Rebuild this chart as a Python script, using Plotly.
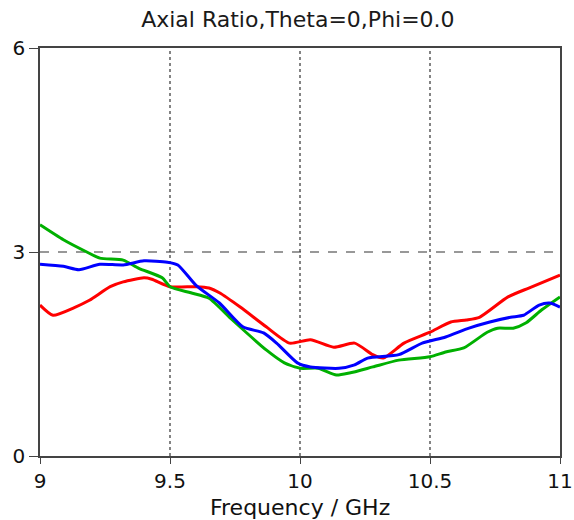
import plotly.graph_objects as go

freq_green = [9.0, 9.09, 9.18, 9.23, 9.32, 9.38, 9.47, 9.5, 9.58, 9.65, 9.74, 9.87, 9.94, 10.0, 10.07, 10.14, 10.19, 10.28, 10.38, 10.5, 10.56, 10.63, 10.72, 10.76, 10.82, 10.87, 10.93, 11.0]
ar_green = [3.40, 3.18, 3.0, 2.91, 2.88, 2.76, 2.62, 2.49, 2.40, 2.32, 2.0, 1.56, 1.37, 1.29, 1.29, 1.19, 1.22, 1.31, 1.41, 1.46, 1.53, 1.59, 1.82, 1.88, 1.88, 1.96, 2.15, 2.34]

freq_red = [9.0, 9.05, 9.13, 9.19, 9.27, 9.32, 9.40, 9.43, 9.5, 9.60, 9.65, 9.69, 9.77, 9.87, 9.96, 10.04, 10.13, 10.21, 10.28, 10.32, 10.40, 10.5, 10.58, 10.64, 10.69, 10.8, 10.88, 11.0]
ar_red = [2.22, 2.07, 2.18, 2.29, 2.49, 2.56, 2.62, 2.60, 2.49, 2.49, 2.47, 2.40, 2.19, 1.90, 1.66, 1.71, 1.60, 1.66, 1.49, 1.44, 1.66, 1.82, 1.97, 2.0, 2.04, 2.34, 2.47, 2.66]

freq_blue = [9.0, 9.09, 9.15, 9.23, 9.32, 9.40, 9.49, 9.53, 9.60, 9.69, 9.78, 9.86, 9.91, 9.99, 10.04, 10.15, 10.21, 10.26, 10.38, 10.47, 10.56, 10.65, 10.73, 10.81, 10.86, 10.92, 10.96, 11.0]
ar_blue = [2.82, 2.79, 2.74, 2.82, 2.81, 2.87, 2.85, 2.81, 2.51, 2.25, 1.90, 1.81, 1.66, 1.37, 1.31, 1.29, 1.34, 1.44, 1.49, 1.66, 1.75, 1.88, 1.97, 2.04, 2.07, 2.22, 2.25, 2.19]

x_ticks = [9, 9.5, 10, 10.5, 11]
x_tick_labels = ["9", "9.5", "10", "10.5", "11"]
y_ticks = [0, 3, 6]

fig = go.Figure()
for xs, ys, col in [(freq_red, ar_red, "#ff0000"), (freq_green, ar_green, "#00b000"), (freq_blue, ar_blue, "#0000ff")]:
    fig.add_trace(go.Scatter(x=xs, y=ys, mode="lines",
                             line=dict(color=col, width=3, shape="spline", smoothing=0.6),
                             showlegend=False))

for xv in [9.5, 10, 10.5]:
    fig.add_shape(type="line", x0=xv, x1=xv, y0=0, y1=6, xref="x", yref="y",
                  line=dict(color="#333333", width=1.2, dash="dot"), layer="below")
fig.add_shape(type="line", x0=9, x1=11, y0=3, y1=3, xref="x", yref="y",
              line=dict(color="#333333", width=1.2, dash="dash"), layer="below")

font = "DejaVu Sans, Verdana, sans-serif"
fig.update_layout(
    width=574, height=520,
    margin=dict(l=40, r=14, t=48, b=64, autoexpand=False),
    paper_bgcolor="white", plot_bgcolor="white",
    title=dict(text="Axial Ratio,Theta=0,Phi=0.0", x=0.519, xanchor="center", y=0.962, yanchor="middle",
               font=dict(family=font, size=22, color="#1a1a1a")),
    font=dict(family=font, color="#111111"),
)
fig.add_annotation(text="Frequency / GHz", x=0.5, y=0, xref="paper", yref="paper",
                   xanchor="center", yanchor="middle", yshift=-51, showarrow=False,
                   font=dict(family=font, size=22, color="#111111"))
fig.update_xaxes(range=[9, 11], tickvals=x_ticks, ticktext=x_tick_labels, showgrid=False,
                 showline=True, linecolor="#444444", linewidth=1.5, mirror=True,
                 ticks="outside", ticklen=6, tickcolor="#444444", automargin=False,
                 ticklabeloverflow="allow",
                 tickfont=dict(family=font, size=20, color="#111111"),
                 zeroline=False)
fig.update_yaxes(range=[0, 6], tickvals=y_ticks, showgrid=False,
                 showline=True, linecolor="#444444", linewidth=1.5, mirror=True,
                 ticks="outside", ticklen=9, tickcolor="#444444", automargin=False,
                 ticklabeloverflow="allow",
                 tickfont=dict(family=font, size=20, color="#111111"),
                 zeroline=False)

fig.write_html("out.html", config={"displayModeBar": False},
               post_script="document.body.style.margin='0';document.body.style.overflow='hidden';document.documentElement.style.overflow='hidden';")
